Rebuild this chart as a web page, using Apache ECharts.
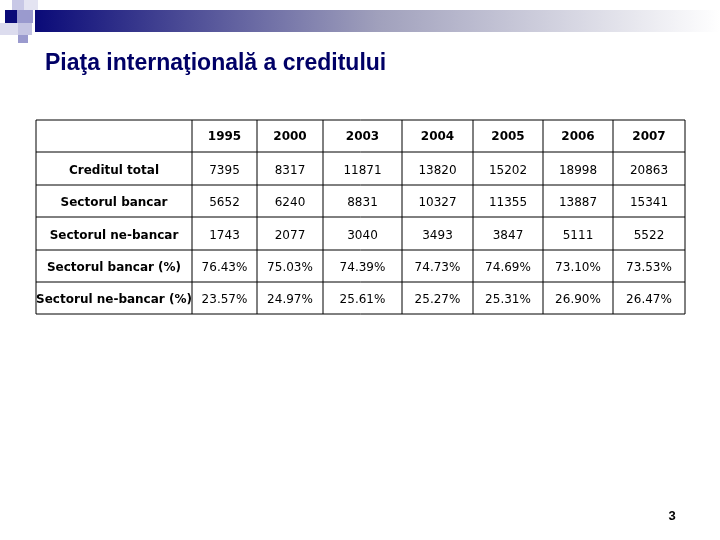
<!DOCTYPE html>
<html><head><meta charset="utf-8">
<script src="https://cdn.jsdelivr.net/npm/echarts@6/dist/echarts.min.js"></script>
<style>html,body{margin:0;padding:0;background:#fff}#c{width:720px;height:540px}</style>
</head><body><div id="c"></div>
<script>
// Datele tabelului
const ani = ['1995', '2000', '2003', '2004', '2005', '2006', '2007'];
const randuri = ['Creditul total', 'Sectorul bancar', 'Sectorul ne-bancar', 'Sectorul bancar (%)', 'Sectorul ne-bancar (%)'];
const creditTotal = ['7395', '8317', '11871', '13820', '15202', '18998', '20863'];
const sectorBancar = ['5652', '6240', '8831', '10327', '11355', '13887', '15341'];
const sectorNeBancar = ['1743', '2077', '3040', '3493', '3847', '5111', '5522'];
const procBancar = ['76.43%', '75.03%', '74.39%', '74.73%', '74.69%', '73.10%', '73.53%'];
const procNeBancar = ['23.57%', '24.97%', '25.61%', '25.27%', '25.31%', '26.90%', '26.47%'];
const valori = [creditTotal, sectorBancar, sectorNeBancar, procBancar, procNeBancar];

// geometria tabelului
const colX = [36, 192, 257, 323, 402, 473, 543, 613, 685];
const rowY = [120, 152, 185, 217, 250, 282, 314];
const font = '12px "DejaVu Sans"';

const el = [];
// banda de sus
el.push({ type: 'rect', shape: { x: 35, y: 10, width: 685, height: 22 },
  style: { fill: new echarts.graphic.LinearGradient(0, 0, 1, 0, [
    { offset: 0, color: '#0a0a78' }, { offset: 0.5, color: '#a0a0bc' }, { offset: 1, color: '#ffffff' }]) } });
el.push({ type: 'rect', shape: { x: 12, y: 0, width: 12, height: 10 }, style: { fill: '#c8c8e6' } });
el.push({ type: 'rect', shape: { x: 24, y: 0, width: 14, height: 10 }, style: { fill: '#e4e4f2' } });
el.push({ type: 'rect', shape: { x: 5, y: 10, width: 12, height: 13 }, style: { fill: '#0a0a78' } });
el.push({ type: 'rect', shape: { x: 17, y: 10, width: 16, height: 13 }, style: { fill: '#9a9ace' } });
el.push({ type: 'rect', shape: { x: 0, y: 23, width: 18, height: 12 }, style: { fill: '#dcdcee' } });
el.push({ type: 'rect', shape: { x: 18, y: 23, width: 14, height: 12 }, style: { fill: '#c4c4e2' } });
el.push({ type: 'rect', shape: { x: 18, y: 35, width: 10, height: 8 }, style: { fill: '#9a9ace' } });
// titlu
el.push({ type: 'text', x: 45, y: 52, style: { text: 'Piaţa internaţională a creditului',
  font: 'bold 23px "Liberation Sans", Arial', fill: '#000066' } });
// linii tabel
rowY.forEach(y => el.push({ type: 'line', shape: { x1: colX[0], y1: y, x2: colX[8], y2: y }, style: { stroke: '#000', lineWidth: 1 } }));
colX.forEach(x => el.push({ type: 'line', shape: { x1: x, y1: rowY[0], x2: x, y2: rowY[6] }, style: { stroke: '#000', lineWidth: 1 } }));
// antet
ani.forEach((a, j) => el.push({ type: 'text', x: (colX[j + 1] + colX[j + 2]) / 2, y: rowY[1] - 9,
  style: { text: a, font: 'bold ' + font, fill: '#000', align: 'center', verticalAlign: 'bottom' } }));
// randuri
randuri.forEach((r, i) => {
  const yb = rowY[i + 2] - 8;
  el.push({ type: 'text', x: (colX[0] + colX[1]) / 2, y: yb,
    style: { text: r, font: 'bold ' + font, fill: '#000', align: 'center', verticalAlign: 'bottom' } });
  valori[i].forEach((v, j) => el.push({ type: 'text', x: (colX[j + 1] + colX[j + 2]) / 2, y: yb,
    style: { text: v, font: font, fill: '#000', align: 'center', verticalAlign: 'bottom' } }));
});
el.push({ type: 'text', x: 672, y: 516, style: { text: '3', font: 'bold 13px "Liberation Sans"', fill: '#000', align: 'center', verticalAlign: 'middle' } });

const chart = echarts.init(document.getElementById('c'));
chart.setOption({ animation: false, graphic: { elements: el } });
</script></body></html>
